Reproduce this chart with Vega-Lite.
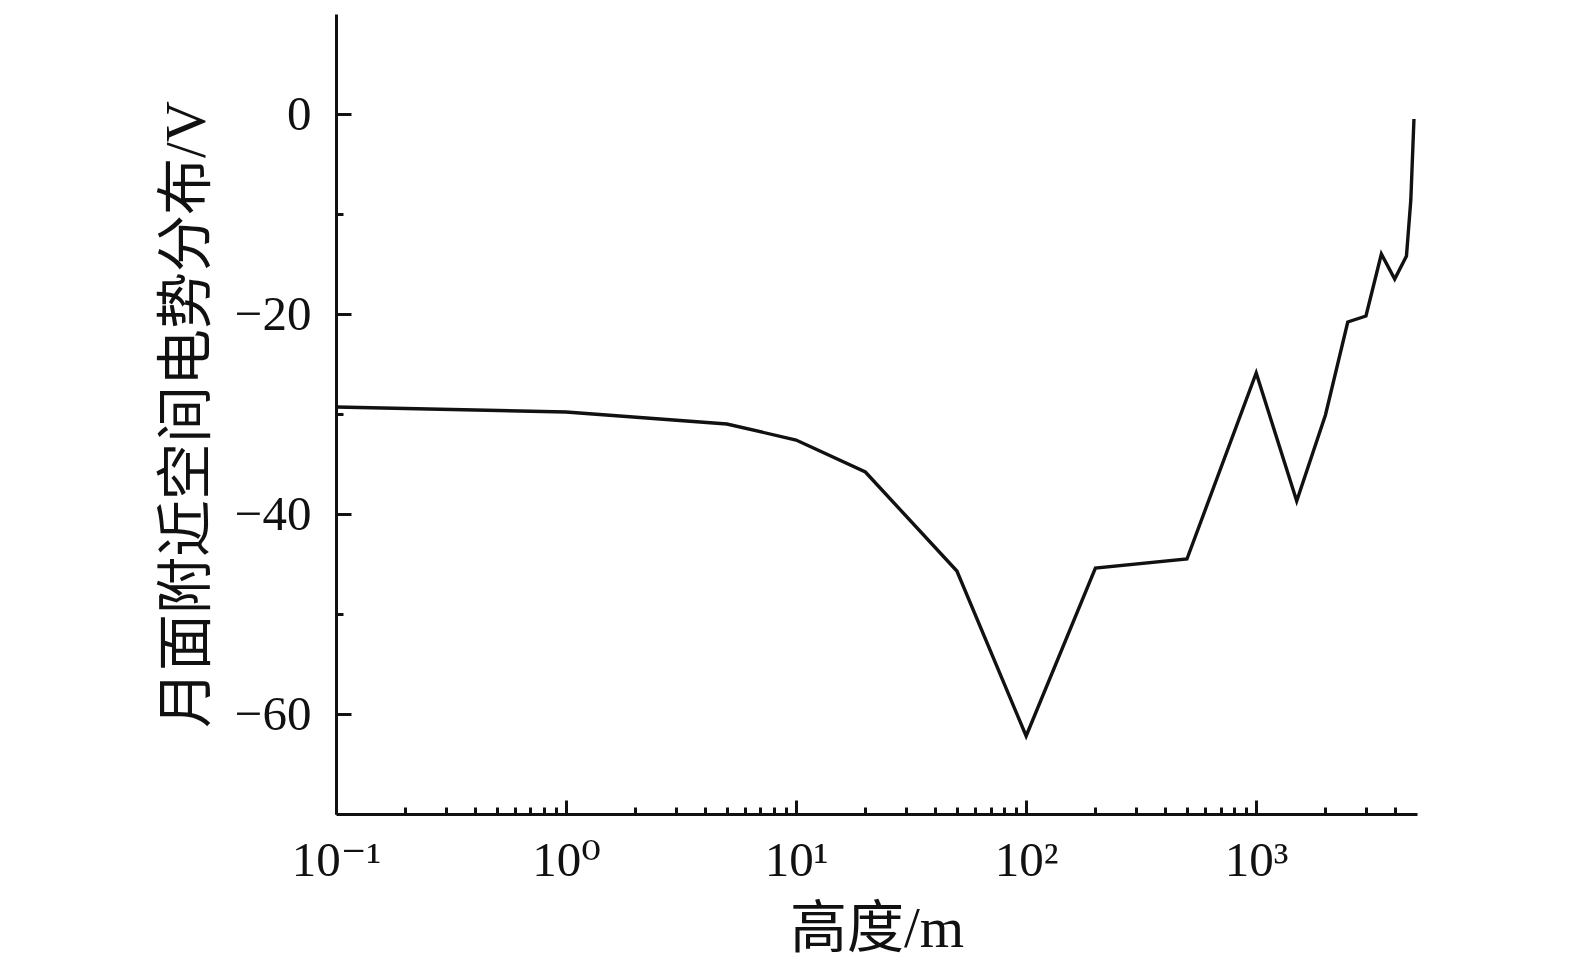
{
  "$schema": "https://vega.github.io/schema/vega-lite/v6.json",
  "width": 1081,
  "height": 800,
  "autosize": "none",
  "padding": {"left": 336, "top": 14, "right": 158, "bottom": 151},
  "background": "white",
  "data": {
    "values": [
      {"height": 0.1, "potential": -29.3},
      {"height": 1, "potential": -29.8},
      {"height": 5, "potential": -31.0},
      {"height": 10, "potential": -32.6},
      {"height": 20, "potential": -35.8},
      {"height": 50, "potential": -45.7},
      {"height": 100, "potential": -62.2},
      {"height": 200, "potential": -45.4},
      {"height": 500, "potential": -44.5},
      {"height": 1000, "potential": -25.9},
      {"height": 1500, "potential": -38.7},
      {"height": 2000, "potential": -30.1},
      {"height": 2500, "potential": -20.8},
      {"height": 3000, "potential": -20.2},
      {"height": 3500, "potential": -14.0},
      {"height": 4000, "potential": -16.5},
      {"height": 4500, "potential": -14.2},
      {"height": 4700, "potential": -8.6},
      {"height": 4850, "potential": -0.5}
    ]
  },
  "layer": [
    {
      "mark": {"type": "line", "color": "#111", "strokeWidth": 3.4},
      "encoding": {
        "x": {
          "field": "height",
          "type": "quantitative",
          "scale": {"type": "log", "domain": [0.1, 5000], "nice": false},
          "axis": {
            "orient": "bottom",
            "title": "高度/m",
            "values": [0.1, 1, 10, 100, 1000],
            "labelExpr": "datum.value == 0.1 ? '10⁻¹' : datum.value == 1 ? '10⁰' : datum.value == 10 ? '10¹' : datum.value == 100 ? '10²' : '10³'",
            "tickSize": -14,
            "labelPadding": 36,
            "titlePadding": 16
          }
        },
        "y": {
          "field": "potential",
          "type": "quantitative",
          "scale": {"domain": [-70, 10], "nice": false, "zero": false},
          "axis": {
            "orient": "left",
            "title": "月面附近空间电势分布/V",
            "values": [-60, -40, -20, 0],
            "tickSize": -15,
            "labelPadding": 40,
            "titlePadding": 18
          }
        }
      }
    },
    {
      "mark": {"type": "line", "opacity": 0},
      "encoding": {
        "x": {
          "field": "height",
          "type": "quantitative",
          "axis": {
            "orient": "bottom",
            "title": null,
            "labels": false,
            "domain": false,
            "tickSize": -7,
            "values": [0.2, 0.3, 0.4, 0.5, 0.6, 0.7, 0.8, 0.9, 2, 3, 4, 5, 6, 7, 8, 9, 20, 30, 40, 50, 60, 70, 80, 90, 200, 300, 400, 500, 600, 700, 800, 900, 2000, 3000, 4000]
          }
        },
        "y": {
          "field": "potential",
          "type": "quantitative",
          "axis": {
            "orient": "left",
            "title": null,
            "labels": false,
            "domain": false,
            "tickSize": -7,
            "values": [-50, -30, -10]
          }
        }
      }
    }
  ],
  "resolve": {"axis": {"x": "independent", "y": "independent"}},
  "config": {
    "view": {"stroke": null},
    "axis": {
      "grid": false,
      "domainColor": "#111",
      "domainWidth": 3,
      "tickColor": "#111",
      "tickWidth": 3,
      "labelFont": "Liberation Serif, DejaVu Serif",
      "labelFontSize": 49,
      "labelColor": "#111",
      "labelOverlap": false,
      "labelFlush": false,
      "titleFont": "Liberation Serif, Noto Sans CJK SC",
      "titleFontSize": 57,
      "titleFontWeight": "normal",
      "titleColor": "#111"
    }
  }
}
